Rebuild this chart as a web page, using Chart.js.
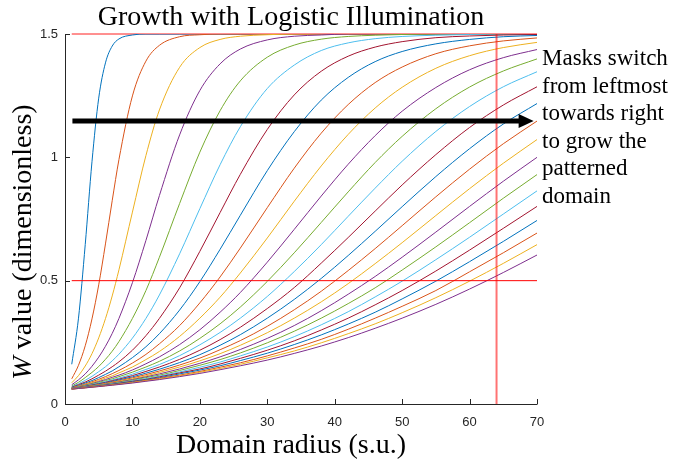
<!DOCTYPE html>
<html>
<head>
  <title>Growth with Logistic Illumination</title>
  <script src="https://cdn.jsdelivr.net/npm/chart.js"></script>
  <style>
    body { margin: 0; background: #fff; }
  </style>
</head>
<body>
  <canvas id="myChart" width="673" height="462"></canvas>

  <script>
    // domain radius (s.u.) where each curve is sampled
    const radius = [1, 2, 3, 4, 5, 6, 7, 8, 10, 12, 14, 17, 20, 23, 26, 30, 34, 38, 42, 46, 50, 55, 60, 65, 70];

    // W value for each mask, leftmost first
    const mask01 = [0.161, 0.348, 0.646, 0.982, 1.24, 1.383, 1.451, 1.48, 1.496, 1.5, 1.5, 1.5, 1.5, 1.5, 1.5, 1.5, 1.5, 1.5, 1.5, 1.5, 1.5, 1.5, 1.5, 1.5, 1.5];
    const mask02 = [0.102, 0.157, 0.236, 0.345, 0.483, 0.649, 0.824, 0.991, 1.249, 1.39, 1.454, 1.489, 1.497, 1.5, 1.5, 1.5, 1.5, 1.5, 1.5, 1.5, 1.5, 1.5, 1.5, 1.5, 1.5];
    const mask03 = [0.086, 0.115, 0.154, 0.204, 0.268, 0.346, 0.438, 0.544, 0.778, 1.007, 1.192, 1.365, 1.445, 1.478, 1.491, 1.497, 1.5, 1.5, 1.5, 1.5, 1.5, 1.5, 1.5, 1.5, 1.5];
    const mask04 = [0.078, 0.098, 0.122, 0.153, 0.19, 0.234, 0.286, 0.347, 0.492, 0.663, 0.845, 1.091, 1.271, 1.379, 1.439, 1.476, 1.491, 1.496, 1.5, 1.5, 1.5, 1.5, 1.5, 1.5, 1.5];
    const mask05 = [0.073, 0.088, 0.107, 0.128, 0.152, 0.181, 0.214, 0.253, 0.347, 0.46, 0.595, 0.813, 1.021, 1.189, 1.31, 1.406, 1.455, 1.479, 1.49, 1.495, 1.498, 1.5, 1.5, 1.5, 1.5];
    const mask06 = [0.0705, 0.082, 0.096, 0.112, 0.131, 0.151, 0.175, 0.202, 0.267, 0.347, 0.442, 0.609, 0.792, 0.97, 1.124, 1.279, 1.374, 1.433, 1.464, 1.481, 1.49, 1.495, 1.498, 1.5, 1.5];
    const mask07 = [0.068, 0.0785, 0.089, 0.102, 0.117, 0.133, 0.151, 0.171, 0.218, 0.277, 0.347, 0.471, 0.619, 0.776, 0.931, 1.113, 1.253, 1.349, 1.41, 1.447, 1.469, 1.485, 1.492, 1.496, 1.498];
    const mask08 = [0.067, 0.075, 0.085, 0.095, 0.107, 0.12, 0.134, 0.151, 0.188, 0.232, 0.285, 0.381, 0.496, 0.627, 0.765, 0.946, 1.104, 1.232, 1.324, 1.388, 1.429, 1.46, 1.478, 1.489, 1.494];
    const mask09 = [0.066, 0.073, 0.081, 0.09, 0.1, 0.111, 0.123, 0.136, 0.166, 0.201, 0.244, 0.318, 0.41, 0.515, 0.632, 0.796, 0.956, 1.098, 1.214, 1.303, 1.366, 1.42, 1.452, 1.472, 1.484];
    const mask10 = [0.065, 0.0715, 0.079, 0.0865, 0.095, 0.105, 0.114, 0.126, 0.15, 0.18, 0.213, 0.274, 0.348, 0.433, 0.531, 0.673, 0.822, 0.965, 1.093, 1.2, 1.284, 1.361, 1.412, 1.445, 1.466];
    const mask11 = [0.0645, 0.07, 0.0765, 0.083, 0.091, 0.099, 0.108, 0.117, 0.138, 0.163, 0.191, 0.241, 0.301, 0.372, 0.452, 0.575, 0.708, 0.843, 0.972, 1.088, 1.187, 1.283, 1.355, 1.404, 1.437];
    const mask12 = [0.064, 0.069, 0.075, 0.081, 0.0875, 0.095, 0.102, 0.111, 0.129, 0.15, 0.173, 0.215, 0.266, 0.325, 0.393, 0.497, 0.613, 0.736, 0.86, 0.979, 1.085, 1.197, 1.285, 1.35, 1.399];
    const mask13 = [0.063, 0.068, 0.0735, 0.079, 0.085, 0.091, 0.0975, 0.105, 0.121, 0.14, 0.16, 0.196, 0.24, 0.29, 0.348, 0.436, 0.537, 0.646, 0.761, 0.875, 0.984, 1.105, 1.206, 1.286, 1.347];
    const mask14 = [0.063, 0.067, 0.072, 0.077, 0.0825, 0.088, 0.0945, 0.101, 0.115, 0.132, 0.15, 0.181, 0.218, 0.261, 0.311, 0.387, 0.472, 0.571, 0.675, 0.782, 0.888, 1.011, 1.121, 1.212, 1.286];
    const mask15 = [0.0625, 0.0665, 0.071, 0.0757, 0.081, 0.086, 0.0915, 0.0975, 0.11, 0.125, 0.141, 0.168, 0.2, 0.238, 0.281, 0.348, 0.424, 0.509, 0.602, 0.7, 0.8, 0.922, 1.035, 1.135, 1.218];
    const mask16 = [0.062, 0.066, 0.07, 0.0745, 0.079, 0.0837, 0.089, 0.094, 0.106, 0.119, 0.134, 0.158, 0.186, 0.22, 0.257, 0.315, 0.382, 0.457, 0.541, 0.63, 0.723, 0.84, 0.952, 1.055, 1.147];
    const mask17 = [0.062, 0.0656, 0.0695, 0.0733, 0.0776, 0.082, 0.0867, 0.0918, 0.102, 0.114, 0.128, 0.15, 0.175, 0.204, 0.238, 0.289, 0.348, 0.414, 0.488, 0.569, 0.654, 0.764, 0.873, 0.976, 1.072];
    const mask18 = [0.0616, 0.065, 0.0687, 0.0723, 0.0762, 0.0804, 0.0848, 0.0893, 0.099, 0.11, 0.122, 0.142, 0.165, 0.191, 0.221, 0.266, 0.318, 0.378, 0.445, 0.517, 0.595, 0.697, 0.801, 0.903, 1.0];
    const mask19 = [0.0615, 0.0646, 0.068, 0.0715, 0.0752, 0.079, 0.083, 0.0873, 0.0965, 0.107, 0.117, 0.136, 0.157, 0.18, 0.207, 0.248, 0.295, 0.348, 0.407, 0.471, 0.543, 0.637, 0.735, 0.834, 0.93];
    const mask20 = [0.061, 0.0642, 0.0674, 0.0707, 0.0742, 0.0777, 0.0815, 0.0855, 0.094, 0.103, 0.113, 0.13, 0.149, 0.17, 0.195, 0.231, 0.273, 0.321, 0.374, 0.434, 0.498, 0.585, 0.676, 0.77, 0.864];
    const mask21 = [0.061, 0.064, 0.067, 0.07, 0.0733, 0.0767, 0.08, 0.084, 0.092, 0.1, 0.11, 0.126, 0.142, 0.162, 0.185, 0.218, 0.256, 0.3, 0.348, 0.402, 0.46, 0.539, 0.624, 0.712, 0.801];
    const mask22 = [0.061, 0.0638, 0.0668, 0.0697, 0.0727, 0.0759, 0.0792, 0.0827, 0.09, 0.098, 0.1065, 0.122, 0.1375, 0.155, 0.176, 0.206, 0.241, 0.28, 0.324, 0.372, 0.426, 0.498, 0.577, 0.659, 0.744];
    const mask23 = [0.0606, 0.063, 0.066, 0.069, 0.0717, 0.0747, 0.078, 0.081, 0.088, 0.0957, 0.104, 0.117, 0.132, 0.149, 0.167, 0.195, 0.227, 0.262, 0.303, 0.348, 0.396, 0.46, 0.536, 0.613, 0.693];
    const mask24 = [0.0605, 0.063, 0.0656, 0.0684, 0.071, 0.074, 0.077, 0.08, 0.0866, 0.0938, 0.1012, 0.114, 0.1285, 0.144, 0.161, 0.187, 0.215, 0.248, 0.285, 0.325, 0.37, 0.431, 0.498, 0.57, 0.646];
    const mask25 = [0.0605, 0.0629, 0.0653, 0.068, 0.0705, 0.0733, 0.0762, 0.079, 0.085, 0.092, 0.099, 0.111, 0.124, 0.139, 0.155, 0.178, 0.205, 0.235, 0.269, 0.307, 0.348, 0.404, 0.466, 0.533, 0.604];

    const masks = [mask01, mask02, mask03, mask04, mask05, mask06, mask07, mask08, mask09, mask10,
                   mask11, mask12, mask13, mask14, mask15, mask16, mask17, mask18, mask19, mask20,
                   mask21, mask22, mask23, mask24, mask25];

    const xTicks = [0, 10, 20, 30, 40, 50, 60, 70];
    const yTicks = [0, 0.5, 1, 1.5];

    // red reference lines and the arrow, in data units
    const refLevels = [0.5, 1.5];
    const refRadius = 64;
    const arrowRadius = [1.1, 69.5];
    const arrowLevel = 1.147;

    const noteLines = ['Masks switch', 'from leftmost', 'towards right', 'to grow the', 'patterned', 'domain'];

    const matlabColors = ['#0072BD', '#D95319', '#EDB120', '#7E2F8E', '#77AC30', '#4DBEEE', '#A2142F'];

    const datasets = masks.map((w, j) => ({
      data: radius.map((r, i) => ({ x: r, y: w[i] })),
      borderColor: matlabColors[j % matlabColors.length],
      borderWidth: 1,
      pointRadius: 0,
      cubicInterpolationMode: 'monotone',
      order: 40 - j
    }));

    const r0 = radius[0], r1 = radius[radius.length - 1];
    datasets.push({
      data: [{ x: r0, y: refLevels[1] }, { x: r1, y: refLevels[1] }],
      borderColor: '#ff2020', borderWidth: 1, pointRadius: 0, clip: false, order: 100
    });
    datasets.push({
      data: [{ x: r0, y: refLevels[0] }, { x: r1, y: refLevels[0] }],
      borderColor: '#ff0000', borderWidth: 1, pointRadius: 0, clip: false, order: 0
    });
    datasets.push({
      data: [{ x: refRadius, y: 0 }, { x: refRadius, y: refLevels[1] }],
      borderColor: 'rgba(255,0,0,0.55)', borderWidth: 2, pointRadius: 0, clip: false, order: 0
    });

    const decor = {
      id: 'decor',
      afterDatasetsDraw(chart) {
        const ctx = chart.ctx;
        const xs = chart.scales.x, ys = chart.scales.y;
        // arrow
        const y = ys.getPixelForValue(arrowLevel);
        const xa = xs.getPixelForValue(arrowRadius[0]);
        const xb = xs.getPixelForValue(arrowRadius[1]);
        ctx.save();
        ctx.fillStyle = '#000';
        ctx.strokeStyle = '#000';
        ctx.lineWidth = 5;
        ctx.beginPath();
        ctx.moveTo(xa, y);
        ctx.lineTo(xb - 12, y);
        ctx.stroke();
        ctx.beginPath();
        ctx.moveTo(xb, y);
        ctx.lineTo(xb - 15, y - 7);
        ctx.lineTo(xb - 15, y + 7);
        ctx.closePath();
        ctx.fill();
        ctx.restore();
      },
      afterDraw(chart) {
        const ctx = chart.ctx;
        const area = chart.chartArea;
        const xs = chart.scales.x, ys = chart.scales.y;
        ctx.save();
        // axes with inward ticks
        ctx.strokeStyle = '#262626';
        ctx.lineWidth = 1;
        ctx.beginPath();
        ctx.moveTo(area.left + 0.5, area.top);
        ctx.lineTo(area.left + 0.5, area.bottom + 0.5);
        ctx.lineTo(area.right + 0.5, area.bottom + 0.5);
        xTicks.forEach(v => {
          const px = Math.round(xs.getPixelForValue(v)) + 0.5;
          ctx.moveTo(px, area.bottom);
          ctx.lineTo(px, area.bottom - 5);
        });
        yTicks.forEach(v => {
          const py = Math.round(ys.getPixelForValue(v)) + 0.5;
          ctx.moveTo(area.left, py);
          ctx.lineTo(area.left + 5, py);
        });
        ctx.stroke();

        const midX = (area.left + area.right) / 2 - 10;
        ctx.fillStyle = '#000';
        ctx.textBaseline = 'alphabetic';
        ctx.textAlign = 'center';
        ctx.font = '28px "Liberation Serif"';
        ctx.fillText('Growth with Logistic Illumination', midX, 25);
        ctx.fillText('Domain radius (s.u.)', midX, 453);

        // y label, italic W
        ctx.translate(31, 242);
        ctx.rotate(-Math.PI / 2);
        ctx.textAlign = 'left';
        ctx.font = 'italic 28px "Liberation Serif"';
        const wW = ctx.measureText('W').width;
        ctx.font = '28px "Liberation Serif"';
        const rest = ' value (dimensionless)';
        const wR = ctx.measureText(rest).width;
        const start = -(wW + wR) / 2;
        ctx.font = 'italic 28px "Liberation Serif"';
        ctx.fillText('W', start, 0);
        ctx.font = '28px "Liberation Serif"';
        ctx.fillText(rest, start + wW, 0);
        ctx.restore();

        ctx.save();
        ctx.fillStyle = '#000';
        ctx.font = '23px "Liberation Serif"';
        ctx.textAlign = 'left';
        noteLines.forEach((t, i) => ctx.fillText(t, area.right + 5, 65 + i * 27.6));
        ctx.restore();
      }
    };

    const tickFont = { family: 'Liberation Sans', size: 13 };

    new Chart(document.getElementById('myChart'), {
      type: 'line',
      data: { datasets: datasets },
      plugins: [decor],
      options: {
        responsive: false,
        animation: false,
        layout: { padding: { top: 34, right: 136, left: 0, bottom: 0 } },
        plugins: {
          legend: { display: false },
          tooltip: { enabled: false },
          title: { display: false }
        },
        scales: {
          x: {
            type: 'linear',
            min: 0,
            max: 70,
            afterFit: s => { s.height = 58; },
            afterBuildTicks: s => { s.ticks = xTicks.map(v => ({ value: v })); },
            grid: { display: false, drawTicks: false },
            border: { display: false },
            ticks: { padding: 11, color: '#262626', font: tickFont, maxRotation: 0 }
          },
          y: {
            type: 'linear',
            min: 0,
            max: 1.5,
            afterFit: s => { s.width = 65; },
            afterBuildTicks: s => { s.ticks = yTicks.map(v => ({ value: v })); },
            grid: { display: false, drawTicks: false },
            border: { display: false },
            ticks: { padding: 7, color: '#262626', font: tickFont, callback: v => String(v) }
          }
        }
      }
    });
  </script>
</body>
</html>
